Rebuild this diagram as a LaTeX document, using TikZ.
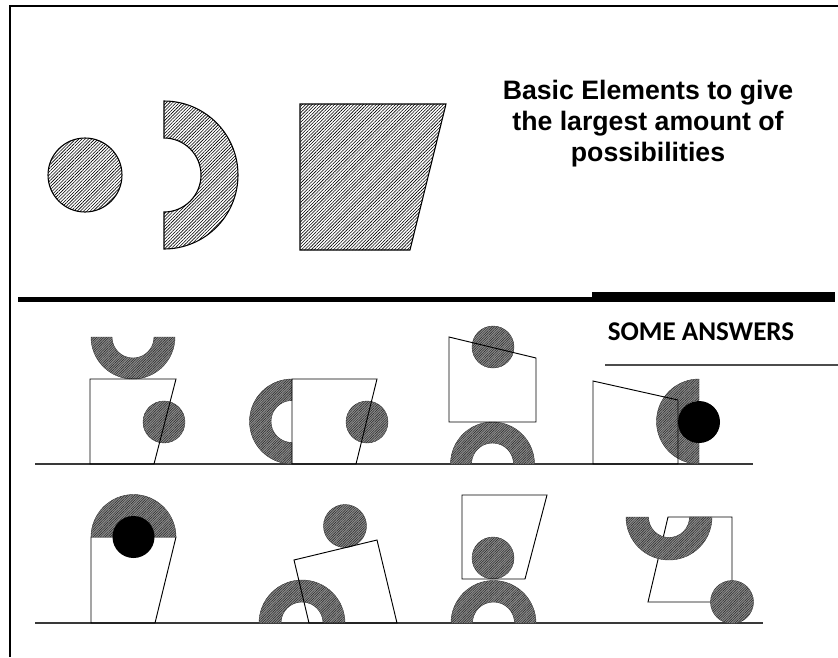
\documentclass[tikz,border=0pt]{standalone}
\usepackage{fontspec}
\newfontfamily\headfont{Liberation Sans}
\newfontfamily\answerfont{Carlito}
\usetikzlibrary{patterns.meta}

\begin{document}
\begin{tikzpicture}[
    x=0.75pt, y=-0.75pt,
    elementshade/.style={draw=black, line width=0.8pt, pattern={Lines[angle=45,distance=1.7pt,line width=0.45pt]}},
    answershade/.style={draw=gray!50!black, line width=0.3pt, fill=gray!90,
        postaction={pattern={Lines[angle=45,distance=1.3pt,line width=0.35pt]}, pattern color=gray!30!black}},
    blockline/.style={draw=black, line width=0.7pt},
    groundline/.style={draw=gray!45!black, line width=1pt},
    blackdisc/.style={fill=black},
]
\useasboundingbox (0,0) rectangle (838,657);

% Frame
\draw[line width=1.2pt] (10,657) -- (10,6) -- (838,6);

% Basic elements
\draw[elementshade] (85,175) circle[radius=37];
\draw[elementshade] (164,175) ++(-90:74) arc[start angle=-90,end angle=90,radius=74]
    -- ++(0,-37) arc[start angle=90,end angle=-90,radius=37] -- cycle;
\draw[elementshade] (300,104) -- (446,104) -- (410,250) -- (300,250) -- cycle;

\node[font=\headfont\bfseries\fontsize{20}{23.3}\selectfont, align=center] (basics) at (648,124)
    {Basic Elements to give\\the largest amount of\\possibilities};

% Separator
\draw[line width=4.2pt] (18,299.5) -- (592,299.5);
\draw[line width=7pt] (592,297) -- (835,297);

\node[font=\answerfont\bfseries\fontsize{20.3}{24}\selectfont] (answers) at (701,332) {SOME ANSWERS};
\draw[gray!60!black, line width=1pt] (605,365) -- (838,365);

% Ground lines
\draw[groundline] (35,464) -- (753,464);
\draw[groundline] (35,623) -- (763,623);

% Answer 1
\path[answershade] (133,337) ++(0:42) arc[start angle=0,end angle=180,radius=42]
    -- ++(21,0) arc[start angle=180,end angle=0,radius=21] -- cycle;
\path[answershade] (164,422) circle[radius=21];
\draw[blockline] (90,379) -- (176,379) -- (154,464) -- (90,464) -- cycle;

% Answer 2
\path[answershade] (292,421.5) ++(90:42.5) arc[start angle=90,end angle=270,radius=42.5]
    -- ++(0,21.5) arc[start angle=270,end angle=90,radius=21] -- cycle;
\path[answershade] (367,422) circle[radius=21];
\draw[blockline] (292,379) -- (377,379) -- (356,464) -- (292,464) -- cycle;

% Answer 3
\path[answershade] (492.5,464) ++(180:42) arc[start angle=180,end angle=360,radius=42]
    -- ++(-21,0) arc[start angle=360,end angle=180,radius=21] -- cycle;
\path[answershade] (493,347) circle[radius=21];
\draw[blockline] (449,337) -- (536,358) -- (536,422) -- (449,422) -- cycle;

% Answer 4
\path[answershade] (699,421.5) ++(90:42.5) arc[start angle=90,end angle=270,radius=42.5]
    -- ++(0,21.5) arc[start angle=270,end angle=90,radius=21] -- cycle;
\path[blackdisc] (699,422) circle[radius=21];
\draw[blockline] (593,381) -- (678,400) -- (678,464) -- (593,464) -- cycle;

% Answer 5
\draw[blockline] (91,537) -- (176,537) -- (155,623) -- (91,623) -- cycle;
\path[answershade] (133.5,537) ++(180:42.5) arc[start angle=180,end angle=360,radius=42.5]
    -- ++(-21.5,0) arc[start angle=360,end angle=180,radius=21] -- cycle;
\path[blackdisc] (133.5,537) circle[radius=21];

% Answer 6
\path[answershade] (302,623) ++(180:43) arc[start angle=180,end angle=360,radius=43]
    -- ++(-22,0) arc[start angle=360,end angle=180,radius=21] -- cycle;
\path[answershade] (345,526) circle[radius=21.5];
\draw[blockline] (294,560) -- (377,540) -- (397,623) -- (309,623) -- cycle;

% Answer 7
\path[answershade] (493.5,623) ++(180:42.5) arc[start angle=180,end angle=360,radius=42.5]
    -- ++(-21.5,0) arc[start angle=360,end angle=180,radius=21] -- cycle;
\path[answershade] (493,558) circle[radius=21];
\draw[blockline] (462,495) -- (547,495) -- (525,579) -- (462,579) -- cycle;

% Answer 8
\draw[blockline] (668,517) -- (732,517) -- (732,602) -- (648,602) -- cycle;
\path[answershade] (669,517) ++(0:43) arc[start angle=0,end angle=180,radius=43]
    -- ++(22.5,0) arc[start angle=180,end angle=0,radius=20.5] -- cycle;
\path[answershade] (732,602) circle[radius=21.5];

\end{tikzpicture}
\end{document}
